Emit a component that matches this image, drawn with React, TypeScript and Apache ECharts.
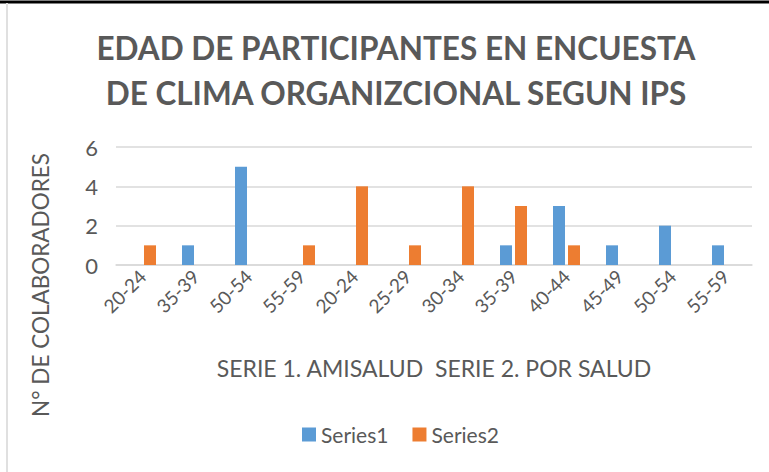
import React, { useEffect, useRef } from "react";
import * as echarts from "echarts";

const categories = ["20-24", "35-39", "50-54", "55-59", "20-24", "25-29", "30-34", "35-39", "40-44", "45-49", "50-54", "55-59"];
const series1 = [0, 1, 5, 0, 0, 0, 0, 1, 3, 1, 2, 1];
const series2 = [1, 0, 0, 1, 4, 1, 4, 3, 1, 0, 0, 0];
const seriesNames = ["Series1", "Series2"];
const yTicks = { min: 0, max: 6, interval: 2 };
const titleText = "EDAD DE PARTICIPANTES EN ENCUESTA\nDE CLIMA ORGANIZCIONAL SEGUN IPS";

const FONT = "Lato, 'Open Sans', sans-serif";
const GRAY = "#595959";

export default function App() {
  const ref = useRef<HTMLDivElement>(null);
  useEffect(() => {
    if (!ref.current) return;
    const chart = echarts.init(ref.current, undefined, { renderer: "svg" });
    chart.setOption({
      animation: false,
      backgroundColor: "#ffffff",
      graphic: [
        { type: "line", shape: { x1: 0, y1: 2, x2: 769, y2: 2 }, style: { stroke: "#000", lineWidth: 3 } },
        { type: "line", shape: { x1: 7, y1: 3, x2: 7, y2: 472 }, style: { stroke: "#e0e0e0", lineWidth: 2 } },
        {
          type: "text",
          x: 396,
          y: 25,
          style: {
            text: titleText,
            fontFamily: FONT,
            fontWeight: "bold",
            fontSize: 31.5,
            lineHeight: 45,
            fill: GRAY,
            align: "center",
            verticalAlign: "top",
          },
        },
        {
          type: "text",
          x: 40,
          y: 285,
          rotation: Math.PI / 2,
          style: {
            text: "N° DE COLABORADORES",
            fontFamily: FONT,
            fontSize: 22.5,
            fill: GRAY,
            align: "center",
            verticalAlign: "middle",
          },
        },
      ],
      legend: {
        bottom: 22,
        left: 297,
        itemWidth: 14,
        itemHeight: 14,
        itemGap: 24,
        icon: "rect",
        textStyle: { fontFamily: FONT, fontSize: 21, color: GRAY },
        data: seriesNames,
      },
      grid: { left: 116, right: 17, top: 147, bottom: 207, containLabel: false },
      xAxis: {
        type: "category",
        data: categories,
        axisLine: { lineStyle: { color: "#d9d9d9", width: 1.5 } },
        axisTick: { show: false },
        axisLabel: { rotate: 45, fontFamily: FONT, fontSize: 19, color: GRAY, margin: 8, interval: 0 },
        name: "SERIE 1. AMISALUD  SERIE 2. POR SALUD",
        nameLocation: "middle",
        nameGap: 91,
        nameTextStyle: { fontFamily: FONT, fontSize: 23, color: GRAY },
      },
      yAxis: {
        type: "value",
        min: yTicks.min,
        max: yTicks.max,
        interval: yTicks.interval,
        axisLine: { show: false },
        axisTick: { show: false },
        axisLabel: { fontFamily: FONT, fontSize: 22, color: GRAY, margin: 18 },
        splitLine: { lineStyle: { color: "#d9d9d9", width: 1.5 } },
      },
      series: [
        { name: seriesNames[0], type: "bar", data: series1, barWidth: 12, barGap: "25%", itemStyle: { color: "#5b9bd5" } },
        { name: seriesNames[1], type: "bar", data: series2, barWidth: 12, itemStyle: { color: "#ed7d31" } },
      ],
    });
    return () => chart.dispose();
  }, []);
  return <div ref={ref} style={{ position: "fixed", left: 0, top: 0, width: 769, height: 472 }} />;
}
